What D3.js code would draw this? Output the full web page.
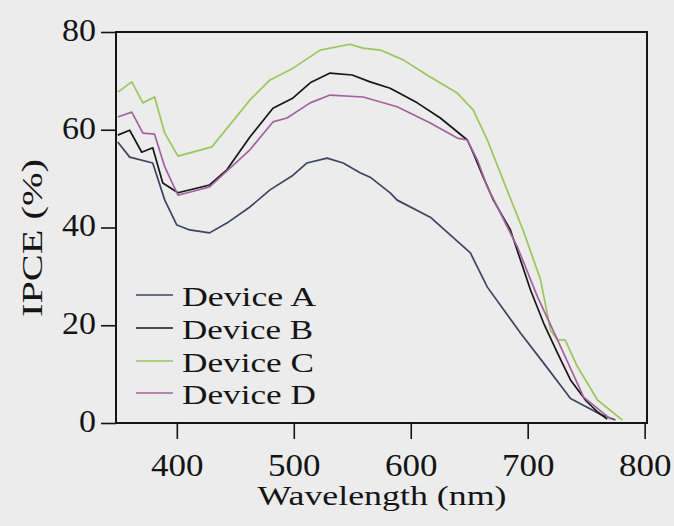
<!DOCTYPE html>
<html>
<head>
<meta charset="utf-8">
<script src="https://cdn.jsdelivr.net/npm/d3@7"></script>
<style>
    body { margin: 0; background: #ececec; }
    svg { display: block; }
</style>
</head>
<body>
<div id="chart"></div>
<script>
// Wavelength / IPCE readings, one list per device
const deviceNames = ['Device A', 'Device B', 'Device C', 'Device D'];
const deviceColors = ['#3d4460', '#161616', '#9ac65a', '#a2629c'];

const deviceA = [
    [349.5, 57.5], [359.7, 54.4], [379.4, 53.2], [389.7, 45.6], [400, 40.5],
    [411, 39.5], [428, 38.9], [442.8, 40.9], [462.5, 44.2], [479.7, 47.7],
    [499.4, 50.7], [511.3, 53.2], [528.5, 54.2], [542.2, 53.2], [556.7, 51.2],
    [565.3, 50.3], [582.4, 47.1], [588.4, 45.6], [616.7, 42.1], [651, 34.8],
    [665.5, 27.8], [693.8, 18.4], [713.5, 12.3], [736.6, 5.0], [750, 3.3],
    [762, 1.8], [775, 0.6]
];
const deviceB = [
    [349.5, 58.9], [359.7, 59.9], [370, 55.4], [379.4, 56.3], [388, 49.1],
    [401, 47.1], [428, 48.7], [442.8, 51.8], [462.5, 58.5], [482.2, 64.4],
    [499.4, 66.5], [514, 69.6], [531, 71.6], [549.9, 71.2], [565.3, 69.8],
    [582.4, 68.5], [605.6, 65.5], [625.3, 62.4], [648.4, 57.9], [653.5, 55.2],
    [662, 50.3], [670.7, 45.6], [685.2, 39.5], [702.4, 27.2], [713.5, 20.5],
    [725.5, 14.3], [736.6, 8.8], [750, 4.5], [760, 2.2], [768, 0.8]
];
const deviceC = [
    [349.5, 67.7], [361.5, 69.8], [371, 65.5], [381, 66.7], [389.7, 59.3],
    [401, 54.6], [430, 56.5], [462.5, 66.1], [479.7, 70.2], [499.4, 72.6],
    [522.5, 76.3], [548, 77.5], [559, 76.7], [574, 76.3], [593.6, 74.3],
    [616.7, 70.8], [639.8, 67.5], [653.5, 64], [665.5, 57.9], [679, 49.7],
    [696, 39.5], [711, 29.3], [719.5, 19], [725.5, 17], [732, 17],
    [742.6, 11.5], [759.7, 4.7], [781, 0.6]
];
const deviceD = [
    [349.5, 62.6], [361.5, 63.6], [371, 59.3], [381, 59.1], [389.7, 52.4],
    [401, 46.6], [428, 48.3], [462.5, 55.9], [482.2, 61.6], [494.2, 62.4],
    [514, 65.5], [531, 67.1], [559.3, 66.7], [588.4, 64.7], [616.7, 61.4],
    [639.8, 58.3], [648.4, 57.9], [657, 53.8], [665.5, 48.3], [691.2, 36],
    [708.4, 25.8], [725.5, 17], [747.8, 5.3], [770.9, 0.8]
];
const allSeries = [deviceA, deviceB, deviceC, deviceD];

const xTicks = [400, 500, 600, 700, 800];
const yTicks = [0, 20, 40, 60, 80];

const size = { width: 674, height: 526 };
const frame = { left: 116, right: 647, top: 32, bottom: 423 };
const ink = '#141414';

// pick a Times-like face if one is installed, else fall back to DejaVu Serif
function pickSerif() {
    const ctx = document.createElement('canvas').getContext('2d');
    const probe = 'Wavelength IPCE 0123456789';
    ctx.font = '60px monospace';
    const base = ctx.measureText(probe).width;
    const candidates = ['Liberation Serif', 'Times New Roman', 'Tinos', 'Nimbus Roman', 'FreeSerif'];
    for (const name of candidates) {
        ctx.font = '60px "' + name + '", monospace';
        if (Math.abs(ctx.measureText(probe).width - base) > 0.5) {
            return '"' + name + '", serif';
        }
    }
    return '"DejaVu Serif", serif';
}
const serif = pickSerif();

const svg = d3.select('#chart')
    .append('svg')
    .attr('width', size.width)
    .attr('height', size.height)
    .style('background', '#ececec');

const xScale = d3.scaleLinear().domain([348, 802]).range([frame.left, frame.right]);
const yScale = d3.scaleLinear().domain([0, 80]).range([frame.bottom, frame.top]);

// force the printed width of a label so it matches the scan whatever face is used
function fitWidth(selection, width) {
    selection
        .attr('textLength', width)
        .attr('lengthAdjust', 'spacingAndGlyphs');
}

// curves
const line = d3.line()
    .x(d => xScale(d[0]))
    .y(d => yScale(d[1]));

svg.append('g')
    .selectAll('path')
    .data(allSeries)
    .enter()
    .append('path')
    .attr('d', line)
    .attr('fill', 'none')
    .attr('stroke', (d, i) => deviceColors[i])
    .attr('stroke-width', 1.7)
    .attr('stroke-linejoin', 'round');

// frame around the plot
svg.append('rect')
    .attr('x', frame.left)
    .attr('y', frame.top)
    .attr('width', frame.right - frame.left)
    .attr('height', frame.bottom - frame.top)
    .attr('fill', 'none')
    .attr('stroke', ink)
    .attr('stroke-width', 2);

// y axis
const yAxisG = svg.append('g')
    .attr('transform', 'translate(' + frame.left + ',0)')
    .call(d3.axisLeft(yScale).tickValues(yTicks).tickSize(15).tickPadding(5));
yAxisG.select('.domain').remove();
yAxisG.attr('font-family', serif).attr('font-size', 32);
yAxisG.selectAll('line').attr('stroke', ink).attr('stroke-width', 1.6);
yAxisG.selectAll('text')
    .attr('fill', ink)
    .attr('dy', '0.26em')
    .each(function (d) {
        d3.select(this).call(fitWidth, String(d).length * 17);
    });

// x axis
const xAxisG = svg.append('g')
    .attr('transform', 'translate(0,' + frame.bottom + ')')
    .call(d3.axisBottom(xScale).tickValues(xTicks).tickSize(16).tickPadding(14));
xAxisG.select('.domain').remove();
xAxisG.attr('font-family', serif).attr('font-size', 32);
xAxisG.selectAll('line').attr('stroke', ink).attr('stroke-width', 1.6);
xAxisG.selectAll('text')
    .attr('fill', ink)
    .each(function (d) {
        d3.select(this).call(fitWidth, String(d).length * 17.5);
    });

// axis titles
svg.append('text')
    .attr('x', 382)
    .attr('y', 505)
    .attr('text-anchor', 'middle')
    .attr('fill', ink)
    .attr('font-family', serif)
    .attr('font-size', 28)
    .text('Wavelength (nm)')
    .call(fitWidth, 249);

svg.append('text')
    .attr('transform', 'translate(42,238) rotate(-90)')
    .attr('text-anchor', 'middle')
    .attr('fill', ink)
    .attr('font-family', serif)
    .attr('font-size', 30)
    .text('IPCE (%)')
    .call(fitWidth, 158);

// legend
const legendRows = [295, 328, 361, 393];
const legendWidths = [134, 131, 132, 134];
const legend = svg.append('g');
deviceNames.forEach(function (name, i) {
    legend.append('line')
        .attr('x1', 136)
        .attr('x2', 173)
        .attr('y1', legendRows[i])
        .attr('y2', legendRows[i])
        .attr('stroke', deviceColors[i])
        .attr('stroke-width', 1.7);
    legend.append('text')
        .attr('x', 182)
        .attr('y', legendRows[i] + 11)
        .attr('fill', ink)
        .attr('font-family', serif)
        .attr('font-size', 28)
        .text(name)
        .call(fitWidth, legendWidths[i]);
});
</script>
</body>
</html>
